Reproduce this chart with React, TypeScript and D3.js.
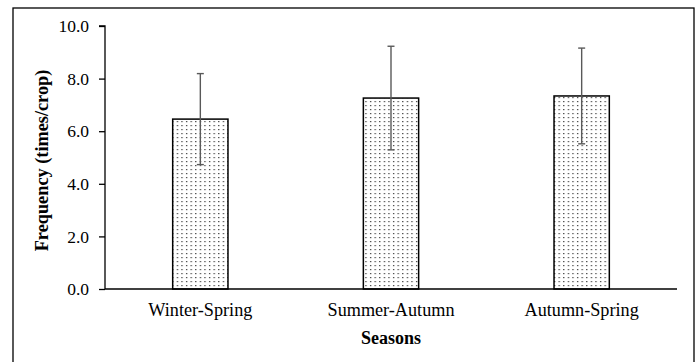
import React, { useEffect, useRef } from 'react';
import * as d3 from 'd3';

const seasons = ['Winter-Spring', 'Summer-Autumn', 'Autumn-Spring'];
const means = [6.46, 7.26, 7.34];
const errors = [1.73, 1.97, 1.82];
const yTicks = [0, 2, 4, 6, 8, 10];

const FONT = '"Liberation Serif", "Times New Roman", serif';

const App = () => {
  const svgRef = useRef<SVGSVGElement>(null);

  useEffect(() => {
    const svg = d3.select(svgRef.current);
    svg.selectAll('*').remove();

    const left = 105;
    const right = 677;
    const top = 26;
    const bottom = 289;

    const defs = svg.append('defs');
    const pat = defs
      .append('pattern')
      .attr('id', 'dots')
      .attr('patternUnits', 'userSpaceOnUse')
      .attr('width', 4.6)
      .attr('height', 4)
      .attr('x', 1)
      .attr('y', 0);
    pat.append('rect').attr('width', 4.6).attr('height', 4).attr('fill', '#fff');
    pat.append('rect').attr('x', 1).attr('y', 1).attr('width', 1.2).attr('height', 1.2).attr('fill', '#333');

    // outer frame
    svg
      .append('rect')
      .attr('x', 13)
      .attr('y', 8)
      .attr('width', 681)
      .attr('height', 370)
      .attr('fill', '#fff')
      .attr('stroke', '#000')
      .attr('stroke-width', 1.3);

    const x = d3
      .scaleBand()
      .domain(seasons)
      .range([left, right])
      .paddingInner(0.71)
      .paddingOuter(0.355);

    const y = d3.scaleLinear().domain([0, 10]).range([bottom, top]);

    // bars
    svg
      .append('g')
      .selectAll('rect')
      .data(seasons)
      .join('rect')
      .attr('x', (d) => x(d)!)
      .attr('y', (d, i) => y(means[i]))
      .attr('width', x.bandwidth())
      .attr('height', (d, i) => y(0) - y(means[i]))
      .attr('fill', 'url(#dots)')
      .attr('stroke', '#000')
      .attr('stroke-width', 1.5);

    // error bars
    const eb = svg.append('g').attr('stroke', '#595959').attr('stroke-width', 1.4);
    seasons.forEach((s, i) => {
      const cx = x(s)! + x.bandwidth() / 2;
      const y1 = y(means[i] + errors[i]);
      const y2 = y(means[i] - errors[i]);
      eb.append('line').attr('x1', cx).attr('x2', cx).attr('y1', y1).attr('y2', y2);
      eb.append('line').attr('x1', cx - 3.5).attr('x2', cx + 3.5).attr('y1', y1).attr('y2', y1);
      eb.append('line').attr('x1', cx - 3.5).attr('x2', cx + 3.5).attr('y1', y2).attr('y2', y2);
    });

    // y axis
    const yAxis = svg
      .append('g')
      .attr('transform', `translate(${left},0)`)
      .call(
        d3
          .axisLeft(y)
          .tickValues(yTicks)
          .tickSize(6)
          .tickPadding(10)
          .tickFormat((d) => d3.format('.1f')(d as number))
      );
    yAxis.select('.domain').attr('stroke', '#000').attr('stroke-width', 1.3).attr('d', `M-6,${top}H0V${bottom}`);
    yAxis.selectAll('.tick line').attr('stroke', '#000').attr('stroke-width', 1.3);
    yAxis
      .selectAll('.tick text')
      .attr('font-family', FONT)
      .attr('font-size', 17.5)
      .attr('fill', '#000');

    // x axis
    const xAxis = svg
      .append('g')
      .attr('transform', `translate(0,${bottom})`)
      .call(d3.axisBottom(x).tickSize(0).tickPadding(14));
    xAxis.select('.domain').attr('stroke', '#000').attr('stroke-width', 1.3).attr('d', `M${left},0H${right}`);
    xAxis
      .selectAll('.tick text')
      .attr('font-family', FONT)
      .attr('font-size', 18.2)
      .attr('fill', '#000');

    svg
      .append('text')
      .attr('x', (left + right) / 2)
      .attr('y', 344)
      .attr('text-anchor', 'middle')
      .attr('font-family', FONT)
      .attr('font-size', 18)
      .attr('font-weight', 'bold')
      .text('Seasons');

    svg
      .append('text')
      .attr('transform', `translate(48,${(top + bottom) / 2 + 3}) rotate(-90)`)
      .attr('text-anchor', 'middle')
      .attr('font-family', FONT)
      .attr('font-size', 18.3)
      .attr('font-weight', 'bold')
      .text('Frequency (times/crop)');
  }, []);

  return (
    <div style={{ position: 'absolute', left: 0, top: 0 }}>
      <svg ref={svgRef} width={699} height={362} style={{ display: 'block' }}></svg>
    </div>
  );
};

export default App;
